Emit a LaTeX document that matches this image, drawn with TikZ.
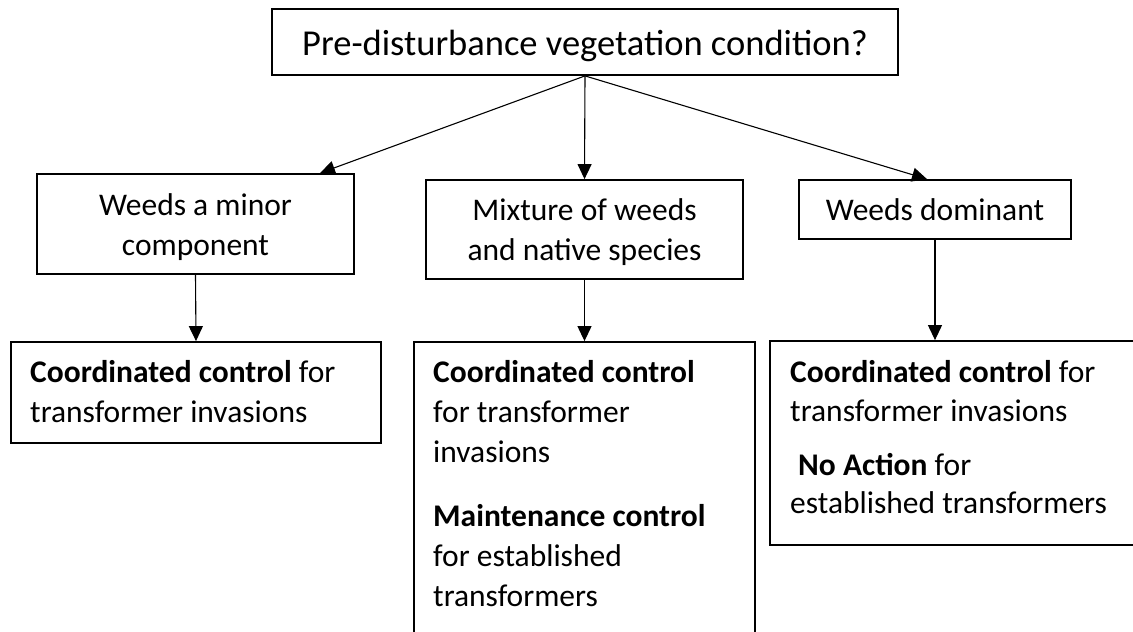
\documentclass[tikz,border=0pt]{standalone}
\usepackage{fontspec}
\setmainfont{Carlito}
\usetikzlibrary{arrows.meta,calc}
\begin{document}
\begin{tikzpicture}[x=1pt,y=-1pt,
  box/.style={draw, line width=1.8pt, inner sep=0pt},
  arr/.style={line width=1.1pt, -{Triangle[length=15pt,width=14pt]}},
  body/.style={font=\fontsize{31.5}{40}\selectfont, inner sep=0pt, anchor=base west},
  cbody/.style={font=\fontsize{31.5}{40}\selectfont, inner sep=0pt, anchor=base},
]
\useasboundingbox (0,0) rectangle (1133,632);
% boxes
\node[box, minimum width=626pt, minimum height=66pt] (top) at (585,42) {};
\node[box, minimum width=317pt, minimum height=100pt] (minor) at (195.5,224) {};
\node[box, minimum width=317pt, minimum height=99pt] (mix) at (584.5,229.5) {};
\node[box, minimum width=272pt, minimum height=59pt] (dom) at (935,209.5) {};
\node[box, minimum width=370pt, minimum height=101pt] (bl) at (196,392.5) {};
\node[box, minimum width=341pt, minimum height=295pt] (bm) at (584.5,489.5) {};
\node[box, minimum width=368pt, minimum height=204pt] (br) at (954,443) {};
% texts
\node[font=\fontsize{36.5}{44}\selectfont, inner sep=0pt, anchor=base] (ttop) at (585,55) {Pre-disturbance vegetation condition?};
\node[cbody] (tminor1) at (195.5,215) {Weeds a minor};
\node[cbody] (tminor2) at (195.5,255) {component};
\node[cbody] (tmix1) at (584.5,220) {Mixture of weeds};
\node[cbody] (tmix2) at (584.5,260) {and native species};
\node[cbody] (tdom) at (935,220) {Weeds dominant};
\node[body] (tbl1) at (30,382) {\textbf{Coordinated control} for};
\node[body] (tbl2) at (30,422) {transformer invasions};
\node[body] (tbm1) at (433,382) {\textbf{Coordinated control}};
\node[body] (tbm2) at (433,422) {for transformer};
\node[body] (tbm3) at (433,462) {invasions};
\node[body] (tbm4) at (433,526) {\textbf{Maintenance control}};
\node[body] (tbm5) at (433,566) {for established};
\node[body] (tbm6) at (433,606) {transformers};
\node[body] (tbr1) at (790,382) {\textbf{Coordinated control} for};
\node[body] (tbr2) at (790,421) {transformer invasions};
\node[body] (tbr3) at (798,475) {\textbf{No Action} for};
\node[body] (tbr4) at (790,513) {established transformers};
% connectors
\coordinate (minorin) at ([xshift=124.5pt]minor.north);
\coordinate (domin) at ([xshift=-8pt]dom.north);
\draw[arr] (top.south) -- (minorin);
\draw[arr] (top.south) -- (mix.north);
\draw[arr] (top.south) -- (domin);
\draw[arr] (minor.south) -- (bl.north);
\draw[arr] (mix.south) -- (mix.south |- bm.north);
\draw[arr] (dom.south) -- (dom.south |- br.north);
\end{tikzpicture}
\end{document}
